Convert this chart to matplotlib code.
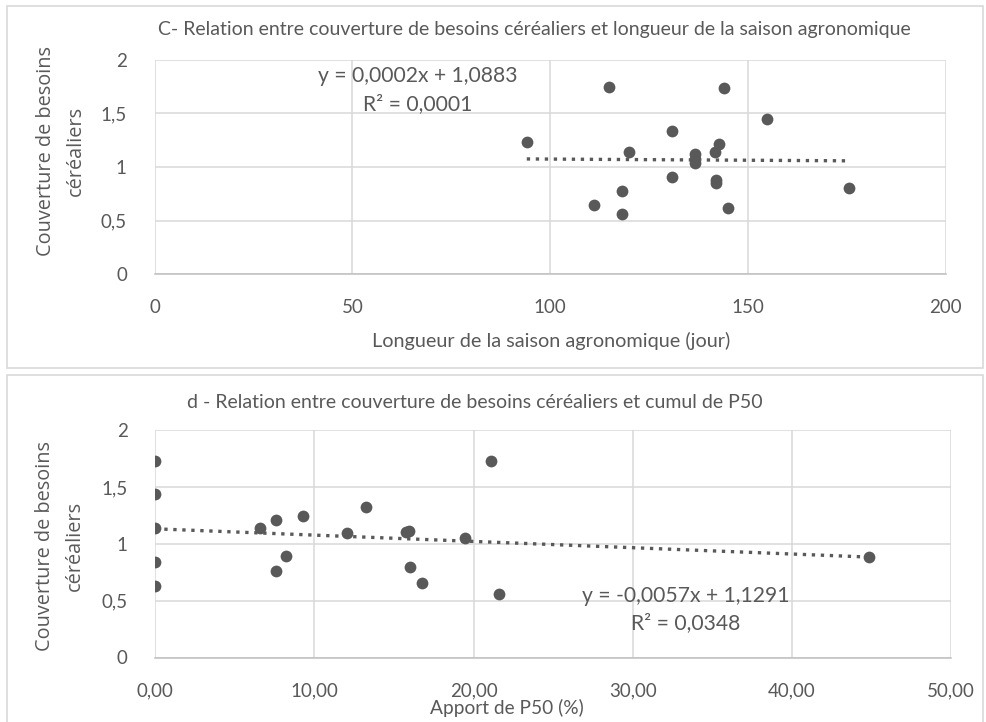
import numpy as np
import matplotlib
matplotlib.use("Agg")
import matplotlib.pyplot as plt
from matplotlib.patches import Rectangle
from matplotlib.ticker import FixedLocator, FuncFormatter

# ---------------- data ----------------
saison_jours = [94.1, 115.0, 144.1, 154.9, 130.8, 142.8, 141.8, 120.0, 136.6, 136.6,
                136.6, 130.8, 141.9, 141.9, 118.1, 111.1, 118.1, 145.1, 175.7]
couverture_c = [1.237, 1.749, 1.734, 1.447, 1.336, 1.212, 1.138, 1.138, 1.119, 1.075,
                1.035, 0.905, 0.880, 0.849, 0.777, 0.650, 0.563, 0.622, 0.808]

apport_p50 = [0.0, 0.0, 0.0, 0.0, 0.0, 6.57, 7.56, 9.25, 8.20, 7.56,
              12.05, 13.21, 15.78, 15.95, 16.03, 16.76, 19.46, 21.12, 21.57, 44.86]
couverture_d = [1.731, 1.435, 1.136, 0.840, 0.629, 1.142, 1.209, 1.247, 0.895, 0.761,
                1.098, 1.326, 1.101, 1.115, 0.799, 0.653, 1.048, 1.731, 0.558, 0.884]

eq_c = ["y = 0,0002x + 1,0883", "R\u00b2 = 0,0001"]
eq_d = ["y = -0,0057x + 1,1291", "R\u00b2 = 0,0348"]

title_c = "C- Relation entre couverture de besoins céréaliers et longueur de la saison agronomique"
title_d = "d - Relation entre couverture de besoins céréaliers et cumul de P50"
xlabel_c = "Longueur de la saison agronomique (jour)"
xlabel_d = "Apport de P50 (%)"
ylabel = "Couverture de besoins\ncéréaliers"

xticks_c = [0, 50, 100, 150, 200]
xticks_d = [0, 10, 20, 30, 40, 50]
yticks = [0, 0.5, 1, 1.5, 2]

# ---------------- style ----------------
TXT = "#595959"
MK = "#595959"
GRID = "#d9d9d9"
FONT = ["Lato", "DejaVu Sans"]
YFONT = ["Open Sans", "DejaVu Sans"]

W, H = 986, 722
fig = plt.figure(figsize=(W / 100, H / 100), dpi=100)
fig.patch.set_facecolor("white")

def fx(px):
    return px / W

def fy(py):
    return 1 - py / H

# panel frames
fig.add_artist(Rectangle((fx(7), fy(367.5)), fx(983) - fx(7), fy(6) - fy(367.5),
                         transform=fig.transFigure, fill=False, ec=GRID, lw=1.2))
fig.add_artist(Rectangle((fx(7), fy(730)), fx(983) - fx(7), fy(375.5) - fy(730),
                         transform=fig.transFigure, fill=False, ec=GRID, lw=1.2))

def comma(v, dec):
    s = f"{v:.{dec}f}" if dec > 0 else (f"{v:g}")
    return s.replace(".", ",")

def style_axes(ax, xt, xdec, xlim):
    ax.set_xlim(*xlim)
    ax.set_ylim(0, 2)
    ax.xaxis.set_major_locator(FixedLocator(xt))
    ax.yaxis.set_major_locator(FixedLocator(yticks))
    ax.xaxis.set_major_formatter(FuncFormatter(lambda v, p: comma(v, xdec)))
    ax.yaxis.set_major_formatter(FuncFormatter(lambda v, p: comma(v, 0)))
    ax.grid(True, color=GRID, lw=1.1, zorder=0)
    ax.set_axisbelow(True)
    for s in ["top", "right", "left"]:
        ax.spines[s].set_visible(False)
    ax.spines["bottom"].set_color("#bfbfbf")
    ax.spines["bottom"].set_linewidth(1.1)
    ax.tick_params(length=0, labelsize=13.5, labelcolor=TXT)
    for lab in ax.get_xticklabels() + ax.get_yticklabels():
        lab.set_family(FONT)

def trend(ax, x, y, x0, x1):
    x = np.asarray(x); y = np.asarray(y)
    a, b = np.polyfit(x, y, 1)
    xs = np.array([x0, x1])
    ax.plot(xs, a * xs + b, color=MK, lw=2.4, linestyle=(0, (1, 1.7)),
            dash_capstyle="butt", zorder=2)

# ---- panel C ----
ax1 = fig.add_axes([fx(154.7), fy(274.4), fx(945.5) - fx(154.7), fy(59.7) - fy(274.4)])
style_axes(ax1, xticks_c, 0, (0, 200))
ax1.tick_params(axis="x", pad=18)
ax1.tick_params(axis="y", pad=20)
ax1.scatter(saison_jours, couverture_c, s=72, color=MK, zorder=3, linewidths=0)
trend(ax1, saison_jours, couverture_c, min(saison_jours), max(saison_jours))

fig.text(fx(534), fy(30), title_c, ha="center", va="center", fontsize=14,
         color=TXT, family=FONT)
fig.text(fx(551), fy(341), xlabel_c, ha="center", va="center", fontsize=14.3,
         color=TXT, family=FONT)
fig.text(fx(61), fy(151), ylabel, ha="center", va="center", rotation=90,
         fontsize=14.3, color=TXT, family=YFONT, linespacing=1.65, multialignment="center")
fig.text(fx(418), fy(76), eq_c[0], ha="center", va="center", fontsize=15.2,
         color=TXT, family=FONT)
fig.text(fx(418), fy(104), eq_c[1], ha="center", va="center", fontsize=15.2,
         color=TXT, family=FONT)

# ---- panel d ----
ax2 = fig.add_axes([fx(155.3), fy(657.5), fx(951) - fx(155.3), fy(430.2) - fy(657.5)])
style_axes(ax2, xticks_d, 2, (0, 50))
ax2.tick_params(axis="x", pad=18)
ax2.tick_params(axis="y", pad=20)
ax2.scatter(apport_p50, couverture_d, s=72, color=MK, zorder=3, linewidths=0)
trend(ax2, apport_p50, couverture_d, 0, max(apport_p50))

fig.text(fx(475), fy(402), title_d, ha="center", va="center", fontsize=14,
         color=TXT, family=FONT)
fig.text(fx(507), fy(708), xlabel_d, ha="center", va="center", fontsize=13.8,
         color=TXT, family=FONT)
fig.text(fx(60), fy(546), ylabel, ha="center", va="center", rotation=90,
         fontsize=14.3, color=TXT, family=YFONT, linespacing=1.65, multialignment="center")
fig.text(fx(686), fy(596), eq_d[0], ha="center", va="center", fontsize=15.2,
         color=TXT, family=FONT)
fig.text(fx(686), fy(623), eq_d[1], ha="center", va="center", fontsize=15.2,
         color=TXT, family=FONT)

fig.savefig("out.png", dpi=100, facecolor="white")
